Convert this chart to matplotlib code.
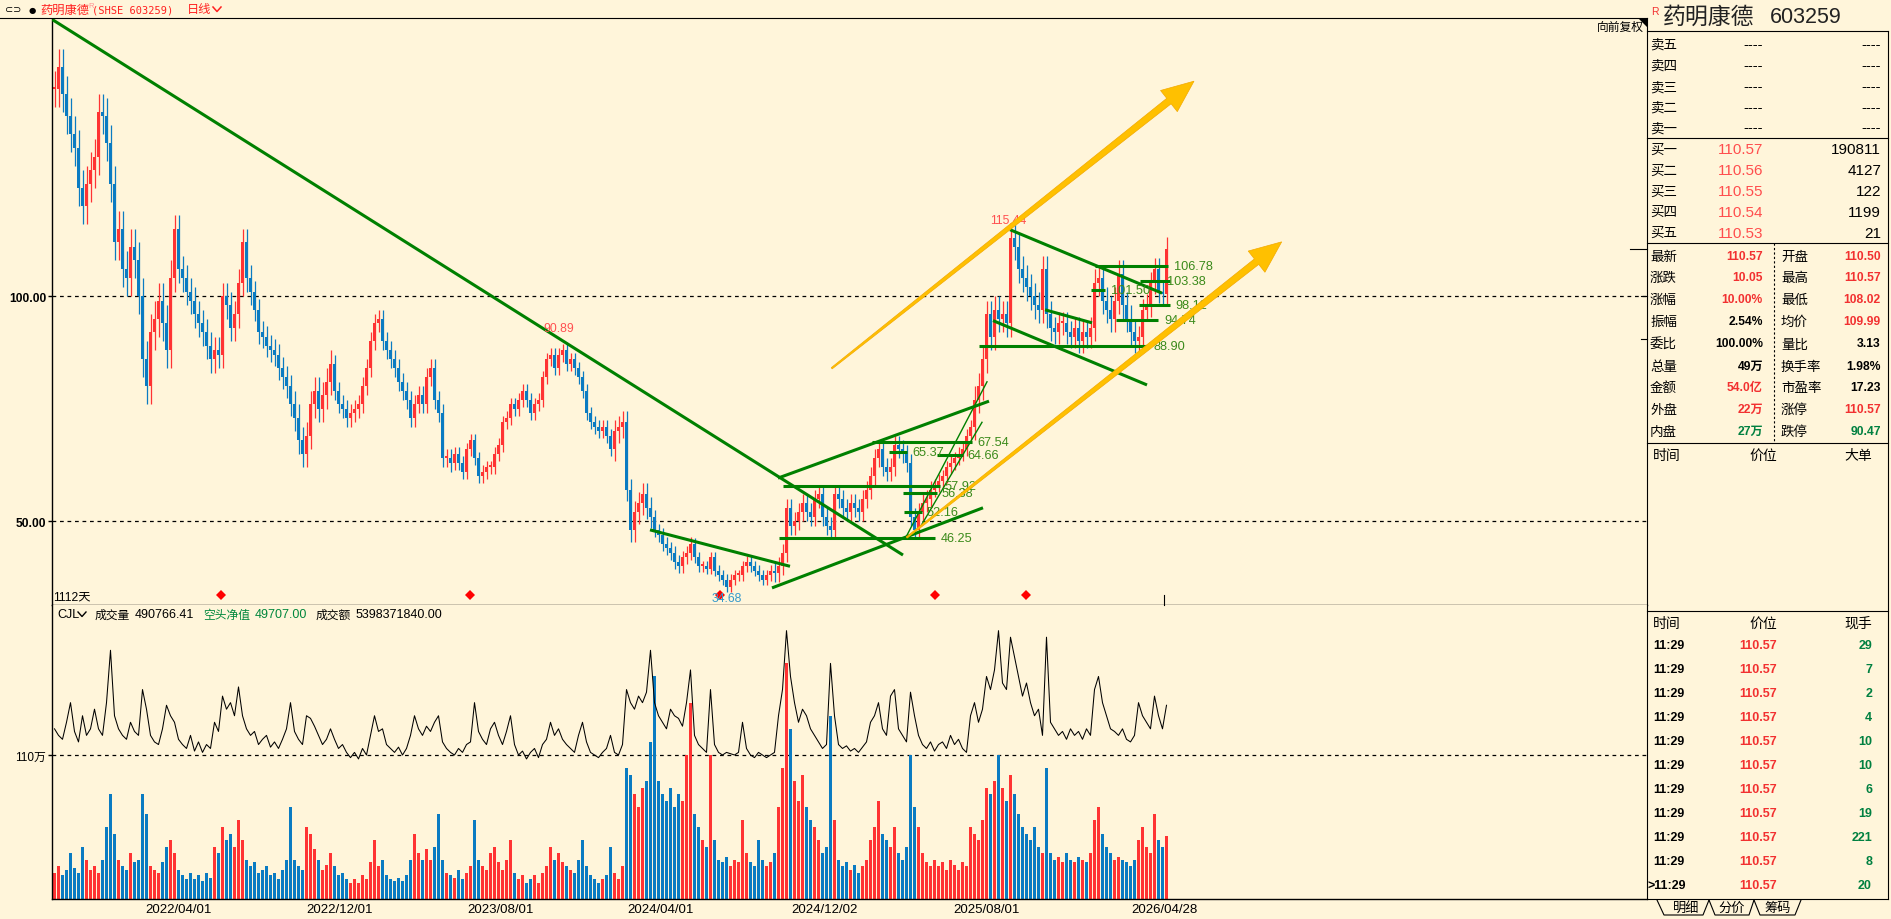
import numpy as np
import matplotlib
matplotlib.use('Agg')
import matplotlib.pyplot as plt
from matplotlib.lines import Line2D
from matplotlib.patches import Polygon
from matplotlib.transforms import IdentityTransform

# ---------------- data (4-day bins) ----------------
price_close = [
    146, 151, 145, 140, 136, 133, 124, 120, 125, 128,
    131, 141, 140, 134, 125, 112, 115, 106, 104, 111,
    108, 100, 86, 80, 92, 95, 99, 94, 88, 104,
    115, 106, 104, 101, 99, 96, 94, 92, 89, 86,
    88, 87, 100, 98, 93, 96, 103, 112, 104, 101,
    97, 92, 91, 89, 88, 87, 84, 82, 80, 76,
    73, 68, 65, 69, 76, 79, 75, 78, 81, 85,
    79, 76, 75, 73, 74, 75, 76, 80, 84, 90,
    94, 95, 90, 88, 86, 84, 81, 79, 77, 73,
    76, 78, 76, 82, 84, 77, 74, 64, 64, 63,
    65, 63, 61, 66, 68, 64, 60, 61, 62, 62,
    65, 67, 72, 73, 76, 75, 77, 79, 77, 74,
    76, 77, 82, 86, 87, 84, 87, 88, 85, 86,
    84, 82, 79, 74, 72, 71, 70, 71, 69, 66,
    70, 71, 72, 57, 48, 52, 54, 56, 53, 51,
    48, 47, 45, 44, 43, 41, 40, 42, 43, 45,
    42, 40, 40, 39.5, 42, 39, 38, 37, 35.5, 37,
    38, 38, 40, 41, 40, 39, 38, 37, 38, 39,
    38.5, 40, 43, 53, 49, 50, 52, 54, 52, 51,
    55, 56, 51, 49, 48, 56, 55, 53, 52, 54,
    53, 52, 55, 57, 60, 64, 66, 62, 61, 62,
    67, 66, 65, 63, 51, 48, 52, 54, 55, 57,
    58, 59, 60, 62, 63, 64, 65, 66, 69, 71,
    77, 80, 86, 96, 91, 97, 95, 96, 94, 113,
    111, 106, 104, 102, 100, 98, 97, 106, 96, 93,
    92, 94, 94, 92, 91, 93, 90, 92, 91, 93,
    103, 104, 99, 97, 95, 99, 105, 98, 95, 92,
    90, 91, 97, 98, 103, 106, 101, 100.5, 110.57,
]
# typical half-range of the daily high/low lines inside each row of 10 bins
row_wick = [4, 4, 4, 3, 3, 2.5, 3, 2, 2, 2,
            1.5, 1.5, 1.5, 1.5, 2.5, 1.5, 1.2, 1.2, 2, 2,
            2, 2, 1.5, 3, 3, 2.5, 3, 2.5]

volume_wan = [
    20, 25, 18, 22, 35, 24, 20, 40, 30, 22,
    25, 20, 30, 55, 80, 50, 30, 25, 22, 35,
    28, 30, 80, 65, 25, 22, 20, 28, 40, 45,
    35, 22, 18, 15, 20, 15, 18, 14, 20, 16,
    40, 35, 55, 45, 50, 40, 60, 45, 30, 25,
    28, 20, 22, 25, 18, 20, 15, 22, 30, 70,
    30, 25, 22, 55, 50, 38, 30, 22, 26, 35,
    25, 18, 20, 15, 12, 15, 12, 18, 15, 28,
    45, 25, 30, 18, 15, 14, 16, 14, 18, 30,
    50, 35, 30, 38, 30, 40, 65, 30, 20, 18,
    16, 22, 15, 20, 25, 60, 30, 25, 22, 35,
    40, 28, 22, 30, 45, 20, 15, 18, 12, 15,
    18, 12, 20, 25, 40, 30, 35, 28, 25, 22,
    20, 30, 45, 25, 18, 15, 12, 15, 18, 40,
    20, 15, 25, 100, 95, 80, 70, 85, 90, 120,
    170, 90, 80, 75, 85, 70, 80, 75, 110, 150,
    65, 55, 45, 40, 110, 45, 30, 28, 32, 25,
    30, 28, 60, 35, 28, 25, 45, 30, 25, 28,
    35, 70, 100, 180, 130, 90, 75, 95, 70, 60,
    55, 45, 35, 40, 140, 60, 30, 25, 28, 22,
    26, 20, 25, 30, 45, 55, 75, 50, 45, 40,
    55, 35, 30, 40, 110, 70, 55, 35, 28, 25,
    30, 25, 28, 22, 30, 26, 22, 28, 25, 55,
    50, 45, 60, 85, 80, 90, 110, 85, 75, 95,
    80, 65, 55, 50, 45, 55, 40, 35, 100, 35,
    30, 32, 28, 35, 30, 28, 32, 30, 28, 35,
    60, 70, 50, 40, 35, 30, 32, 30, 28, 25,
    30, 45, 55, 40, 35, 65, 45, 40, 48,
]

cjl_line = [
    130, 125, 122, 135, 150, 128, 120, 140, 125, 130,
    145, 130, 125, 150, 190, 140, 130, 125, 122, 135,
    128, 125, 160, 145, 125, 120, 118, 130, 148, 140,
    135, 122, 118, 115, 125, 113, 120, 112, 118, 115,
    135, 128, 155, 145, 150, 140, 162, 140, 130, 125,
    128, 118, 122, 125, 116, 120, 115, 122, 130, 150,
    128, 122, 118, 140, 138, 132, 125, 118, 122, 130,
    122, 115, 118, 112, 108, 112, 107, 115, 110, 125,
    140, 128, 130, 118, 115, 112, 116, 110, 115, 125,
    140, 130, 125, 132, 128, 135, 140, 120, 115, 112,
    110, 115, 112, 118, 120, 150, 128, 122, 118, 130,
    135, 125, 118, 128, 140, 118, 110, 113, 107, 112,
    115, 108, 118, 122, 135, 125, 130, 122, 118, 115,
    112, 125, 135, 120, 112, 110, 108, 112, 115, 125,
    112, 110, 118, 160, 150, 145, 155, 150, 158, 190,
    150, 140, 135, 130, 145, 140, 138, 132, 150, 175,
    125, 118, 115, 112, 160, 118, 112, 110, 112, 111,
    110, 112, 135, 115, 110, 108, 112, 110, 108, 110,
    112, 140, 160, 205, 170, 150, 135, 145, 140, 130,
    125, 120, 115, 118, 180, 140, 118, 115, 117, 113,
    115, 112, 116, 120, 135, 140, 150, 130, 125, 155,
    160, 130, 125, 120, 158, 140, 125, 118, 115, 120,
    113, 118, 120, 115, 125, 118, 122, 115, 112, 140,
    150, 135, 145, 170, 160, 175, 205, 165, 160, 200,
    185, 170, 155, 165, 150, 140, 145, 125, 200, 135,
    130, 125, 128, 122, 130, 125, 128, 122, 130, 125,
    160, 170, 150, 140, 130, 128, 125, 130, 122, 120,
    125, 150, 140, 135, 130, 155, 140, 130, 148,
]

date_labels = ['2022/04/01', '2022/12/01', '2023/08/01', '2024/04/01',
               '2024/12/02', '2025/08/01', '2026/04/28']
date_bars = [125, 287, 448, 608, 771, 933, 1111]

# trend lines (bar index, price)
thick_lines = [((-0.7, 161.5), (850, 42.5)),
               ((597, 48.1), (737, 40.0)),
               ((725, 59.6), (936, 76.7)),
               ((719, 35.2), (930, 53.0)),
               ((957, 114.8), (1109, 100.7)),
               ((940, 94.6), (1094, 80.3)),
               ((992, 97.0), (1039, 94.1))]
thin_lines = [((853, 46.5), (934, 81.0)),
              ((868, 49.0), (929, 72.0))]
# level value, start bar, end bar, label bar
levels = [(67.54, 819, 919, 924), (65.37, 836, 854, 859), (64.66, 884, 910, 914),
          (57.92, 730, 887, 892), (56.38, 850, 884, 889), (52.16, 851, 869, 874),
          (46.25, 726, 882, 888),
          (106.78, 1042, 1115, 1121), (103.38, 1087, 1117, 1114),
          (101.50, 1038, 1052, 1058), (98.12, 1086, 1117, 1122),
          (94.74, 1063, 1105, 1111), (88.90, 926, 1095, 1100)]
arrows = [((778.7, 84.0), (1141, 147.8)), ((853.7, 46.4), (1228.7, 112.1))]
extremes = [(955, 116.9, '115.44', '#FF5050'), (506, 92.9, '90.89', '#FF5050'),
            (674, 33.0, '34.68', '#3399CC')]
signal_bars = [168, 417, 667, 882, 973]
signal_price = 33.7

# right panel
sell_labels = ['卖五', '卖四', '卖三', '卖二', '卖一']
buy_labels = ['买一', '买二', '买三', '买四', '买五']
buy_prices = ['110.57', '110.56', '110.55', '110.54', '110.53']
buy_vols = ['190811', '4127', '122', '1199', '21']
stats = [('最新', '110.57', 'r', '开盘', '110.50', 'r'),
         ('涨跌', '10.05', 'r', '最高', '110.57', 'r'),
         ('涨幅', '10.00%', 'r', '最低', '108.02', 'r'),
         ('振幅', '2.54%', 'k', '均价', '109.99', 'r'),
         ('委比', '100.00%', 'k', '量比', '3.13', 'k'),
         ('总量', '49万', 'k', '换手率', '1.98%', 'k'),
         ('金额', '54.0亿', 'r', '市盈率', '17.23', 'k'),
         ('外盘', '22万', 'r', '涨停', '110.57', 'r'),
         ('内盘', '27万', 'g', '跌停', '90.47', 'g')]
tick_times = ['11:29'] * 11
tick_prices = ['110.57'] * 11
tick_hands = ['29', '7', '2', '4', '10', '10', '6', '19', '221', '8', '20']

# ---------------- style ----------------
W, H = 1891, 920
BG = '#FFF5DA'
RED = '#FF3333'
BLUE = '#0A7BC2'
GREEN = '#008000'
TXTG = '#3A8A1A'
DGREEN = '#008040'
RED_T = '#FF4D4D'
RED_B = '#F23030'
plt.rcParams['font.family'] = ['Liberation Sans', 'Noto Sans CJK SC', 'DejaVu Sans']
CJK = ['Noto Sans CJK SC', 'DejaVu Sans']
COLMAP = {'r': RED_B, 'k': 'black', 'g': DGREEN}

fig = plt.figure(figsize=(W / 100, H / 100), dpi=100, facecolor=BG)


def fx(x):
    return x / W


def fy(y):
    return 1 - y / H


def ftext(x, y, s, **kw):
    kw.setdefault('va', 'center')
    fig.text(fx(x), fy(y), s, **kw)


def fline(xs, ys, **kw):
    kw.setdefault('color', 'black')
    kw.setdefault('lw', 0.8)
    fig.add_artist(Line2D([fx(v) for v in xs], [fy(v) for v in ys],
                          transform=fig.transFigure, **kw))


L, R = 52.3, 1647
ax = fig.add_axes([fx(L), fy(606), fx(R) - fx(L), (606 - 19.5) / H])
axv = fig.add_axes([fx(L), fy(900), fx(R) - fx(L), (900 - 606) / H])
for a in (ax, axv):
    a.set_facecolor(BG)
    a.set_xlim(-0.7, 1594)
    for s in ('top', 'right'):
        a.spines[s].set_visible(False)
    a.spines['left'].set_linewidth(1.0)
    a.spines['bottom'].set_linewidth(1.0)
ax.set_ylim(31.4, 161.73)
axv.set_ylim(0, 224.6)

# candles
n = len(price_close)
xb = np.arange(n) * 4 + 1.5
c = np.array(price_close, float)
o = np.r_[c[0], c[:-1]]
up = c >= o
cols = np.where(up, RED, BLUE)
lo = np.minimum(o, c)
hi = np.maximum(o, c)
wick = np.repeat(row_wick, 10)[:n]
ax.vlines(xb, lo - wick, hi + wick, colors=cols, lw=0.9, zorder=2)
ax.bar(xb, np.maximum(hi - lo, 0.5), bottom=lo, width=2.6, color=cols, linewidth=0, zorder=2)

ax.axhline(100, color='black', lw=0.9, ls=(0, (3, 3)), zorder=1)
ax.axhline(50, color='black', lw=0.9, ls=(0, (3, 3)), zorder=1)

ax.set_xticks([])
ax.set_yticks([50, 100])
ax.set_yticklabels(['50.00', '100.00'], fontweight='bold', fontsize=8.7)
ax.tick_params(axis='y', length=3, width=1, pad=1.5)

for (x0, y0), (x1, y1) in thick_lines:
    ax.plot([x0, x1], [y0, y1], color=GREEN, lw=2.2, solid_capstyle='butt', zorder=3)
for (x0, y0), (x1, y1) in thin_lines:
    ax.plot([x0, x1], [y0, y1], color=GREEN, lw=1.0, zorder=3)
for val, b0, b1, bl in levels:
    ax.plot([b0, b1], [val, val], color=GREEN, lw=2.2, solid_capstyle='butt', zorder=3)
    ax.text(bl, val, f'{val:.2f}', color=TXTG, fontsize=9.2, ha='left', va='center', zorder=5)

for bx, py, s, col in extremes:
    ax.text(bx, py, s, color=col, fontsize=8.8, ha='center', va='center', zorder=5)

ax.plot(signal_bars, [signal_price] * len(signal_bars), 'D', color='#FF0000',
        markersize=5.5, markeredgewidth=0, zorder=4)


def tapered_arrow(p0, p1, w0, w1, head_len, head_w):
    P0 = ax.transData.transform(p0)
    P1 = ax.transData.transform(p1)
    d = P1 - P0
    u = d / np.hypot(*d)
    nv = np.array([-u[1], u[0]])
    B = P1 - u * head_len
    pts = [P0 + nv * w0 / 2, B + nv * w1 / 2, B + nv * head_w / 2, P1,
           B - nv * head_w / 2, B - nv * w1 / 2, P0 - nv * w0 / 2]
    poly = Polygon(pts, closed=True, transform=IdentityTransform(),
                   facecolor='#FFC000', edgecolor='#F2A900', lw=0.5, zorder=6)
    poly.set_clip_on(False)
    fig.add_artist(poly)


for p0, p1 in arrows:
    tapered_arrow(p0, p1, 1.5, 7.0, 32, 27)

# volume
axv.bar(xb, volume_wan, width=3.9, color=cols, linewidth=0, zorder=2)
axv.plot(xb, cjl_line, color='black', lw=0.75, zorder=3)
axv.axhline(110, color='black', lw=0.9, ls=(0, (3, 3)), zorder=1)
axv.set_yticks([110])
axv.set_yticklabels(['110万'], fontsize=8.5)
axv.tick_params(axis='y', length=3, width=1, pad=1.5)
axv.set_xticks(date_bars)
axv.set_xticklabels(date_labels, fontsize=9.5)
axv.tick_params(axis='x', length=0, pad=3)

# ---------------- header / annotations ----------------
fline([0, 1647], [19.3, 19.3])
ftext(5, 10.5, '⊂⊃', fontsize=7, family='DejaVu Sans')
ftext(29, 10.5, '●', fontsize=6, family='DejaVu Sans')
ftext(40, 10, '药明康德', color='#FF2020', fontsize=8.8, family=CJK)
ftext(88.5, 6.5, 'R', color='#FF9090', fontsize=5.5)
ftext(92, 10.5, '(SHSE 603259)', color='#FF2020', fontsize=7.5, family='DejaVu Sans Mono')
ftext(187, 10, '日线', color='#FF2020', fontsize=8.8, family=CJK)
fline([213, 217, 221], [8, 12.5, 8], color='#FF2020', lw=1.1)
ftext(1644, 27, '向前复权', ha='right', fontsize=8.5, family=CJK)
ftext(53, 597, '1112天', fontsize=8.8, ha='left')
fline([1164, 1164], [596, 606])

ftext(57, 615, 'CJL', fontsize=9)
fline([78, 82, 86], [613, 617.5, 613], lw=1.0)
ftext(95, 615, '成交量', fontsize=8.5, family=CJK)
ftext(135, 615, '490766.41', fontsize=9)
ftext(203, 615, '空头净值', fontsize=8.5, family=CJK, color='#00873C')
ftext(255, 615, '49707.00', fontsize=9, color='#00873C')
ftext(316, 615, '成交额', fontsize=8.5, family=CJK)
ftext(356, 615, '5398371840.00', fontsize=9)

# right-edge marks
fline([1630, 1647], [249.7, 249.7])
fline([1641, 1647], [297.3, 297.3])
fline([1641, 1647], [340, 340])
tri = Polygon([[fx(1639), fy(20)], [fx(1647), fy(20)], [fx(1647), fy(28)]],
              closed=True, transform=fig.transFigure, facecolor='black', edgecolor='none')
fig.add_artist(tri)

# ---------------- right panel ----------------
fline([1647, 1647], [19.3, 900])
fline([1888, 1888], [32.3, 900])
for yy in [32.3, 139.3, 244.3, 444.3, 612.3, 900]:
    fline([1647, 1888], [yy, yy])
fline([1774, 1774], [244.3, 444.3], ls=(0, (2, 2)))

ftext(1651, 12, 'R', color=RED_B, fontsize=7.5)
ftext(1663, 17, '药明康德', fontsize=16.5, family=CJK, color='#222222')
ftext(1770, 17.5, '603259', fontsize=15.5, color='#222222')

sell_y = [45, 65.7, 87.3, 107.7, 128.3]
buy_y = [150, 170.7, 191.7, 212.3, 233.3]
for lab, yy in zip(sell_labels, sell_y):
    ftext(1650, yy, lab, fontsize=9.7, family=CJK)
    ftext(1763, yy, '----', fontsize=10.5, ha='right')
    ftext(1881, yy, '----', fontsize=10.5, ha='right')
for lab, pr, vo, yy in zip(buy_labels, buy_prices, buy_vols, buy_y):
    ftext(1650, yy, lab, fontsize=9.7, family=CJK)
    ftext(1763, yy + 0.5, pr, fontsize=11, ha='right', color=RED_T)
    ftext(1881, yy + 0.5, vo, fontsize=11, ha='right')

stat_y = [256.7, 278.3, 300, 322.3, 344.3, 366.7, 388.3, 410, 432.3]
for (l1, v1, c1, l2, v2, c2), yy in zip(stats, stat_y):
    ftext(1650, yy, l1, fontsize=9.7, family=CJK)
    ftext(1763, yy, v1, fontsize=8.7, ha='right', fontweight='bold', color=COLMAP[c1],
          family=['Liberation Sans', 'Noto Sans CJK SC'])
    ftext(1781, yy, l2, fontsize=9.7, family=CJK)
    ftext(1881, yy, v2, fontsize=8.7, ha='right', fontweight='bold', color=COLMAP[c2],
          family=['Liberation Sans', 'Noto Sans CJK SC'])

ftext(1653, 456, '时间', fontsize=10, family=CJK)
ftext(1777, 456, '价位', fontsize=10, family=CJK, ha='right')
ftext(1872, 456, '大单', fontsize=10, family=CJK, ha='right')

ftext(1653, 624, '时间', fontsize=10, family=CJK)
ftext(1777, 624, '价位', fontsize=10, family=CJK, ha='right')
ftext(1872, 624, '现手', fontsize=10, family=CJK, ha='right')
for i, (t, p, h) in enumerate(zip(tick_times, tick_prices, tick_hands)):
    yy = 646 + 24 * i
    if i == len(tick_times) - 1:
        ftext(1648, yy, '>' + t, fontsize=9, fontweight='bold')
    else:
        ftext(1653, yy, t, fontsize=9, fontweight='bold')
    ftext(1777, yy, p, fontsize=9, fontweight='bold', ha='right', color=RED_B)
    ftext(1872, yy, h, fontsize=9, fontweight='bold', ha='right', color=DGREEN)

# tabs
fline([1657, 1664, 1703, 1709], [901, 916, 916, 901])
fline([1709, 1715, 1749, 1754], [901, 916, 916, 901])
fline([1754, 1760, 1795, 1801], [901, 916, 916, 901])
ftext(1686, 908, '明细', fontsize=9.5, family=CJK, ha='center')
ftext(1732, 908, '分价', fontsize=9.5, family=CJK, ha='center')
ftext(1778, 908, '筹码', fontsize=9.5, family=CJK, ha='center')

fig.savefig('out.png', dpi=100, facecolor=BG)
